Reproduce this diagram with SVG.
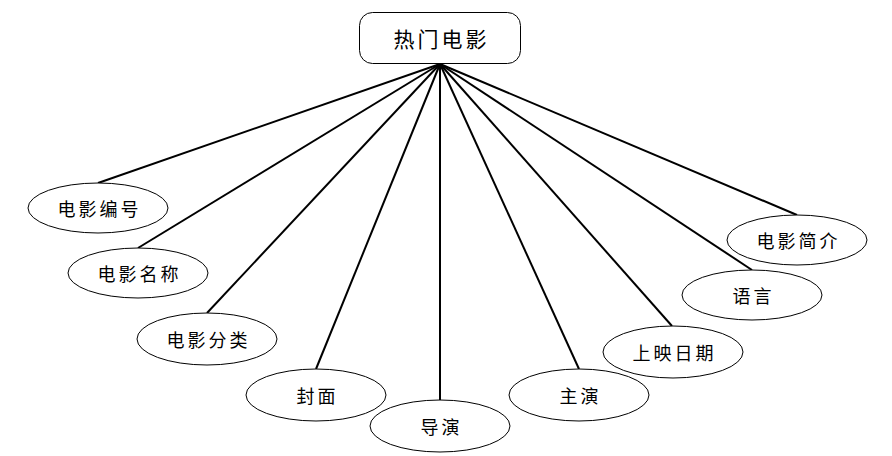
<svg xmlns="http://www.w3.org/2000/svg" width="892" height="456" viewBox="0 0 892 456">
<style>
.n ellipse,.n rect{fill:#fff;stroke:#000;stroke-width:1}
.n text{font-family:"Noto Sans CJK SC","Noto Sans CJK JP",sans-serif;font-size:18px;fill:#000;text-anchor:middle;dominant-baseline:central;letter-spacing:3px}
#conn line{stroke:#000;stroke-width:2}
</style>
<rect width="892" height="456" fill="#fff"/>
<g id="conn">
<line x1="440" y1="64" x2="98" y2="183"/>
<line x1="440" y1="64" x2="138" y2="248"/>
<line x1="440" y1="64" x2="207" y2="313"/>
<line x1="440" y1="64" x2="316" y2="369"/>
<line x1="440" y1="64" x2="440" y2="400"/>
<line x1="440" y1="64" x2="579" y2="369"/>
<line x1="440" y1="64" x2="672" y2="326"/>
<line x1="440" y1="64" x2="752" y2="270"/>
<line x1="440" y1="64" x2="797" y2="215"/>
</g>
<g id="root" class="n"><rect x="359.5" y="12.5" width="161" height="51" rx="13"/><text x="441.5" y="38" style="font-size:21px">热门电影</text></g>
<g id="n1" class="n"><ellipse cx="98" cy="208" rx="70" ry="25"/><text x="99.5" y="208">电影编号</text></g>
<g id="n2" class="n"><ellipse cx="138" cy="273" rx="70" ry="25"/><text x="139.5" y="273">电影名称</text></g>
<g id="n3" class="n"><ellipse cx="207" cy="339" rx="70" ry="26"/><text x="208.5" y="339">电影分类</text></g>
<g id="n4" class="n"><ellipse cx="316" cy="395" rx="70" ry="26"/><text x="317.5" y="395">封面</text></g>
<g id="n5" class="n"><ellipse cx="440" cy="426" rx="70" ry="26"/><text x="441.5" y="426">导演</text></g>
<g id="n6" class="n"><ellipse cx="579" cy="395" rx="70" ry="26"/><text x="580.5" y="395">主演</text></g>
<g id="n7" class="n"><ellipse cx="673" cy="352" rx="70" ry="26"/><text x="674.5" y="352">上映日期</text></g>
<g id="n8" class="n"><ellipse cx="752" cy="295" rx="70" ry="25"/><text x="753.5" y="295">语言</text></g>
<g id="n9" class="n"><ellipse cx="797" cy="240" rx="70" ry="25"/><text x="798.5" y="240">电影简介</text></g>
</svg>
